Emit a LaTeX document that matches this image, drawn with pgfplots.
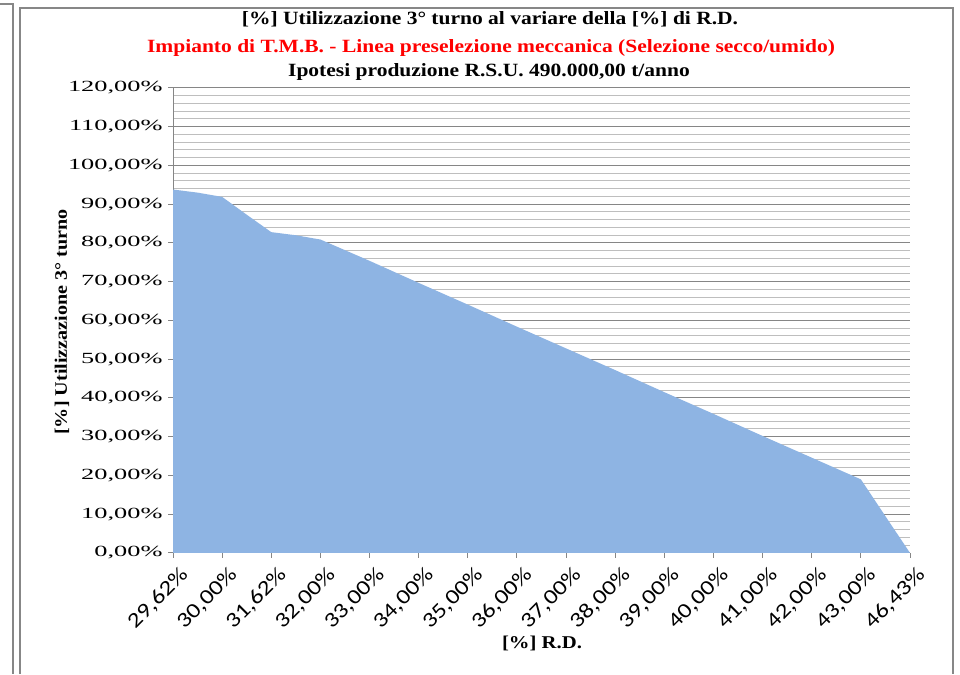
\documentclass[border=0pt]{standalone}
\usepackage{fontspec}
\setmainfont{Liberation Serif}
\newfontfamily\ytickfont[FakeStretch=1.7]{Liberation Serif}
\newfontfamily\titlefont[FakeStretch=1.15]{Liberation Serif}
\newfontfamily\xtickfont[FakeStretch=1.2]{Carlito}
\usepackage{pgfplots}
\pgfplotsset{compat=1.18}
\definecolor{areablue}{RGB}{142,180,227}
\definecolor{majgrid}{RGB}{134,134,134}
\definecolor{mingrid}{RGB}{190,190,190}
\definecolor{framegray}{RGB}{135,135,135}
\definecolor{titlered}{RGB}{255,0,0}
\begin{document}
\begin{tikzpicture}[x=1pt,y=1pt]
\path[use as bounding box] (0,0) rectangle (960,674);
\fill[white] (0,0) rectangle (960,674);
\draw[framegray, line width=2pt] (0,670) -- (12.5,670) -- (12.5,0);
\draw[framegray, line width=2pt] (19.5,0) -- (19.5,666) -- (952.5,666) -- (952.5,0);
\node[font=\titlefont\bfseries\fontsize{18.7}{18.7}\selectfont] at (490,655) {[\%] Utilizzazione 3° turno al variare della [\%] di R.D.};
\node[font=\titlefont\bfseries\fontsize{18.7}{18.7}\selectfont, text=titlered] at (491,626) {Impianto di T.M.B. - Linea preselezione meccanica (Selezione secco/umido)};
\node[font=\titlefont\bfseries\fontsize{18.7}{18.7}\selectfont] at (489,602) {Ipotesi produzione R.S.U. 490.000,00 t/anno};
\node[font=\titlefont\bfseries\fontsize{18}{18}\selectfont] at (542,31) {[\%] R.D.};
\node[font=\titlefont\bfseries\fontsize{17.5}{17.5}\selectfont, rotate=90] at (62,352) {[\%] Utilizzazione 3° turno};
\begin{axis}[
  at={(173pt,121pt)}, anchor=south west,
  scale only axis, width=737pt, height=465pt,
  xmin=0, xmax=15, ymin=0, ymax=120,
  axis lines=left, axis line style={-, draw=majgrid, line width=1pt},
  xtick={0,1,...,15},
  xticklabels={{29,62\%},{30,00\%},{31,62\%},{32,00\%},{33,00\%},{34,00\%},{35,00\%},{36,00\%},{37,00\%},{38,00\%},{39,00\%},{40,00\%},{41,00\%},{42,00\%},{43,00\%},{46,43\%}},
  ytick={0,10,...,120},
  yticklabels={{0,00\%},{10,00\%},{20,00\%},{30,00\%},{40,00\%},{50,00\%},{60,00\%},{70,00\%},{80,00\%},{90,00\%},{100,00\%},{110,00\%},{120,00\%}},
  minor ytick={2,4,6,8,12,14,16,18,22,24,26,28,32,34,36,38,42,44,46,48,52,54,56,58,62,64,66,68,72,74,76,78,82,84,86,88,92,94,96,98,102,104,106,108,112,114,116,118},
  ymajorgrids, yminorgrids,
  major grid style={draw=majgrid, line width=1pt},
  minor grid style={draw=mingrid, line width=1pt},
  tick align=outside, major tick length=5pt, minor tick length=0pt,
  tick style={draw=majgrid, line width=1pt},
  yticklabel style={font=\ytickfont\fontsize{15.5}{15.5}\selectfont, text=black, xshift=-2pt},
  xticklabel style={rotate=45, anchor=north east, font=\xtickfont\fontsize{21}{21}\selectfont, text=black, yshift=-6pt, xshift=2pt},
  clip=false,
]
\addplot[fill=areablue, draw=none] coordinates {
(0,93.8) (0.5,93.0) (1,91.9) (1.5,87.3) (2,82.8) (2.5,82.0) (2.95,81.0)
(3,80.9) (4,75.4) (5,69.7) (6,64.1) (7,58.4) (8,52.8) (9,47.2) (10,41.5)
(11,35.9) (12,30.2) (13,24.6) (14,19.0) (15,0)
} \closedcycle;
\end{axis}
\end{tikzpicture}
\end{document}
